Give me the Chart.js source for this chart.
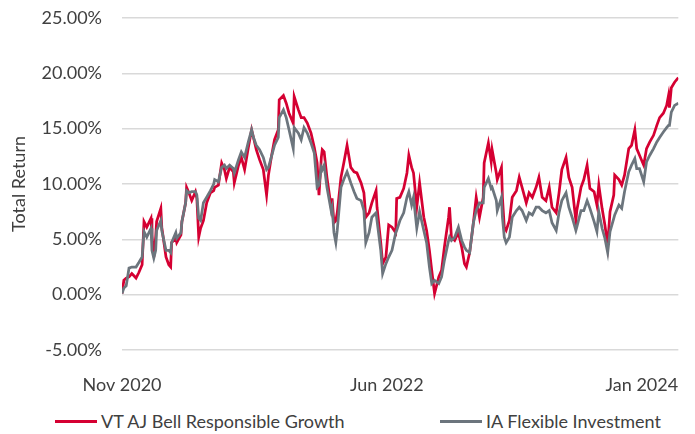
<!DOCTYPE html>
<html>
<head>
<meta charset="utf-8">
<script src="https://cdn.jsdelivr.net/npm/chart.js@4.4.1/dist/chart.umd.min.js"></script>
<style>
    html, body { margin: 0; padding: 0; background: #fff; }
    #wrap { position: relative; width: 695px; height: 434px; font-family: Lato, sans-serif; color: #404040; }
    #box { position: absolute; left: 0; top: 0; width: 695px; height: 400px; }
    .item { position: absolute; top: 410px; display: flex; align-items: center; font-size: 18px; white-space: nowrap; }
    .swatch { display: inline-block; width: 42px; height: 3px; margin-right: 4px; }
</style>
</head>
<body>
<div id="wrap">
    <div id="box"><canvas id="chart"></canvas></div>
    <div class="item" style="left:55px"><span class="swatch" style="background:#d50032"></span>VT AJ Bell Responsible Growth</div>
    <div class="item" style="left:440px"><span class="swatch" style="background:#6c757d"></span>IA Flexible Investment</div>
</div>
<script>
// days since start of Nov 2020
const days = [0, 4, 9, 15, 21, 30, 36, 43, 47, 53, 62, 64, 68, 72, 74, 83, 85, 94, 100, 104, 106, 115, 117, 126, 128, 136, 138, 143, 149, 157, 160, 164, 168, 174, 181, 189, 196, 198, 206, 213, 219, 223, 230, 238, 240, 249, 255, 262, 270, 277, 281, 287, 294, 302, 309, 313, 319, 326, 334, 336, 345, 351, 357, 366, 368, 377, 383, 389, 396, 404, 411, 417, 421, 426, 428, 432, 438, 447, 449, 453, 457, 460, 468, 474, 481, 489, 496, 502, 511, 517, 521, 528, 534, 543, 545, 553, 557, 564, 570, 577, 585, 587, 594, 602, 609, 613, 619, 623, 630, 636, 645, 651, 657, 662, 668, 677, 683, 689, 698, 700, 704, 711, 719, 726, 732, 736, 743, 751, 757, 764, 772, 774, 783, 789, 791, 800, 802, 811, 813, 817, 821, 828, 834, 843, 849, 855, 864, 870, 877, 885, 891, 898, 906, 913, 919, 928, 934, 940, 949, 955, 962, 970, 972, 981, 987, 994, 1000, 1009, 1015, 1019, 1026, 1032, 1038, 1043, 1051, 1053, 1062, 1068, 1074, 1083, 1089, 1096, 1100, 1106, 1115, 1121, 1128, 1136, 1143, 1149, 1157, 1164, 1168, 1170, 1174, 1181, 1189];

const vtGrowth = [0.1, 1.3, 1.5, 1.6, 1.9, 1.5, 2.0, 2.7, 6.6, 6.1, 6.9, 5.4, 3.4, 5.2, 6.6, 7.8, 6.1, 3.4, 2.7, 2.5, 4.7, 5.1, 4.7, 5.4, 6.6, 8.3, 9.7, 9.2, 8.5, 9.3, 8.7, 5.2, 6.0, 6.7, 8.3, 9.2, 9.4, 9.7, 9.9, 11.9, 11.3, 10.5, 11.5, 11.1, 10.1, 11.7, 12.4, 11.3, 13.3, 14.9, 14.2, 13.1, 12.2, 11.3, 9.0, 10.8, 12.4, 14.0, 14.9, 17.6, 18.0, 17.3, 16.4, 15.5, 17.9, 16.7, 16.0, 16.0, 15.5, 14.6, 13.3, 11.9, 9.0, 12.4, 13.1, 12.9, 10.6, 7.9, 8.7, 6.5, 6.7, 7.4, 10.6, 11.9, 13.5, 11.5, 11.1, 11.0, 10.1, 9.2, 7.0, 7.4, 8.3, 9.4, 7.9, 4.7, 2.8, 3.4, 6.3, 6.1, 5.6, 8.7, 8.8, 9.6, 11.0, 12.6, 11.5, 11.0, 7.9, 10.1, 7.0, 5.8, 4.0, 2.2, 0.1, 1.6, 2.2, 4.3, 7.0, 7.9, 5.2, 4.9, 5.6, 4.3, 2.8, 2.5, 3.8, 6.5, 8.8, 7.0, 8.8, 11.9, 13.7, 12.0, 13.1, 11.0, 10.4, 11.5, 8.8, 6.1, 5.8, 6.7, 8.8, 9.4, 10.6, 9.7, 8.3, 9.2, 8.8, 9.7, 10.6, 8.8, 8.5, 9.7, 7.9, 7.4, 9.2, 11.3, 12.4, 10.6, 9.7, 6.7, 7.6, 9.7, 10.4, 11.7, 9.6, 9.3, 8.1, 9.9, 7.8, 6.3, 4.5, 7.5, 9.0, 10.8, 10.4, 9.9, 10.8, 13.2, 13.5, 14.9, 13.2, 12.6, 11.7, 13.2, 13.8, 14.4, 15.3, 16.0, 16.4, 17.1, 18.0, 16.9, 18.7, 19.2, 19.6];

const iaFlexible = [0.1, 0.6, 0.8, 2.4, 2.5, 2.5, 2.9, 3.4, 5.7, 5.2, 6.0, 4.0, 3.3, 4.0, 5.8, 6.7, 5.8, 4.0, 4.0, 3.8, 4.7, 5.6, 5.1, 5.6, 6.6, 8.3, 9.4, 9.2, 9.3, 9.3, 9.0, 6.9, 6.7, 8.3, 8.8, 9.4, 10.0, 10.4, 10.2, 11.5, 11.7, 11.4, 11.7, 11.4, 11.0, 12.2, 12.9, 12.4, 13.8, 14.9, 14.2, 13.5, 13.1, 12.4, 11.3, 11.5, 12.4, 13.5, 14.2, 16.0, 16.7, 16.0, 14.9, 13.2, 15.1, 14.6, 14.0, 15.1, 14.6, 13.7, 12.8, 9.7, 9.9, 11.5, 11.3, 11.7, 9.7, 7.6, 7.9, 5.6, 4.7, 5.8, 9.7, 10.4, 11.1, 10.1, 9.3, 8.7, 8.5, 7.6, 4.7, 5.6, 7.0, 7.4, 6.7, 4.0, 1.9, 2.8, 3.4, 4.0, 5.6, 5.8, 6.7, 7.4, 8.8, 9.3, 8.1, 8.8, 6.0, 7.5, 5.8, 4.7, 2.5, 1.0, 1.3, 1.0, 1.6, 3.1, 4.9, 5.2, 4.9, 5.2, 6.1, 4.9, 4.3, 4.0, 3.8, 6.5, 7.6, 8.3, 8.3, 9.7, 10.5, 9.6, 9.7, 8.5, 7.6, 8.8, 7.0, 5.2, 4.7, 5.2, 7.0, 7.6, 7.9, 7.6, 6.7, 7.4, 7.2, 7.9, 7.9, 7.6, 7.4, 7.6, 6.5, 5.8, 7.4, 8.5, 9.2, 7.9, 7.0, 5.8, 6.1, 7.6, 7.6, 8.5, 7.8, 6.6, 5.7, 7.5, 6.0, 5.1, 3.8, 5.7, 6.9, 7.2, 8.1, 7.8, 9.3, 11.1, 11.7, 12.3, 11.4, 11.4, 10.2, 12.0, 12.6, 13.2, 13.8, 14.2, 14.7, 15.1, 15.3, 15.3, 16.5, 17.1, 17.3];

const tickDays = [0, 566, 1111];
const tickLabels = ['Nov 2020', 'Jun 2022', 'Jan 2024'];

const red = '#d50032';
const grey = '#6c757d';
const font = { family: 'Lato', size: 18 };

const series = (values) => values.map((v, i) => ({ x: days[i], y: v }));

new Chart(document.getElementById('chart'), {
    type: 'line',
    data: {
        datasets: [
            { label: 'VT AJ Bell Responsible Growth', data: series(vtGrowth), borderColor: red, backgroundColor: red, borderWidth: 2.75, pointRadius: 0, tension: 0, order: 1 },
            { label: 'IA Flexible Investment', data: series(iaFlexible), borderColor: grey, backgroundColor: grey, borderWidth: 2.75, pointRadius: 0, tension: 0, order: 0 }
        ]
    },
    options: {
        responsive: true,
        maintainAspectRatio: false,
        animation: false,
        layout: { padding: { top: 18, right: 13, bottom: 0, left: 0 } },
        plugins: { legend: { display: false }, tooltip: { enabled: false } },
        scales: {
            x: {
                type: 'linear',
                min: 0,
                max: days[days.length - 1],
                afterBuildTicks: (scale) => { scale.ticks = tickDays.map((value) => ({ value })); },
                afterFit: (scale) => { scale.height = 50; },
                grid: { display: false },
                border: { display: false },
                ticks: {
                    autoSkip: false,
                    maxRotation: 0,
                    padding: 16,
                    color: '#404040',
                    font,
                    callback: (value) => tickLabels[tickDays.indexOf(value)]
                }
            },
            y: {
                min: -5,
                max: 25,
                afterFit: (scale) => { scale.width = 122; },
                grid: { color: '#d9d9d9', lineWidth: 1.5, drawTicks: true, tickLength: 20, tickColor: 'rgba(0,0,0,0)' },
                border: { display: false },
                ticks: {
                    stepSize: 5,
                    padding: 0,
                    color: '#404040',
                    font,
                    callback: (value) => value.toFixed(2) + '%'
                },
                title: { display: true, text: 'Total Return', color: '#404040', font, padding: { top: 8, bottom: 0 } }
            }
        }
    }
});
</script>
</body>
</html>
